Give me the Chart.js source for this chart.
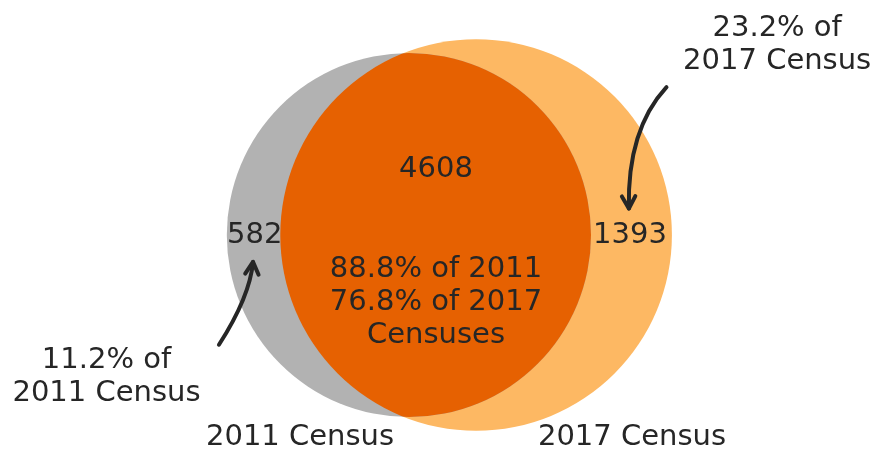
<!DOCTYPE html>
<html>
<head>
<meta charset="utf-8">
<title>2011 vs 2017 Census</title>
<script src="https://cdn.jsdelivr.net/npm/chart.js@4.4.1/dist/chart.umd.min.js"></script>
<style>
    html, body { margin: 0; padding: 0; background: #ffffff; }
    #wrap { width: 879px; height: 449px; position: relative; }
</style>
</head>
<body>
<div id="wrap"><canvas id="venn"></canvas></div>
<script>
// 数据：两个集合
const setNames = ['2011 Census', '2017 Census'];
const onlyCounts = [582, 1393];   // 只在 2011 / 只在 2017
const bothCount = 4608;           // 两次都有
const circleCenterX = [-7.5, 7.5]; // 圆心（坐标单位，读图估计）

const colors = ['#b2b2b2', '#fdb863', '#e66101'];
const textColor = '#262626';
const FONT = '29px "DejaVu Sans"';

// 圆面积 = 集合大小
const totals = onlyCounts.map(c => c + bothCount);
const radii = totals.map(t => Math.sqrt(t / Math.PI));
const pct = (n, d) => (n / d * 100).toFixed(1) + '%';

// 文字位置（坐标单位）
const labelPos = {
    both:   { x: -1.45, y: 15.3 },
    onlyA:  { x: -41.9, y: 0.45 },
    onlyB:  { x: 41.85, y: 0.56 },
    share:  { x: -1.45, y: -14.4 },
    nameA:  { x: -31.8, y: -44.6 },
    nameB:  { x: 42.3,  y: -44.6 },
    noteA:  { x: -75.0, y: -31.1 },
    noteB:  { x: 74.7,  y: 43.1 }
};
// 箭头：起点、控制点、终点
const arrowA = [{ x: -49.9, y: -24.5 }, { x: -43.0, y: -13.8 }, { x: -42.3, y: -6.0 }];
const arrowB = [{ x: 50.0, y: 33.0 }, { x: 41.2, y: 23.5 }, { x: 41.6, y: 5.9 }];

function unitToPx(chart, r) {
    const sx = chart.scales.x;
    return Math.abs(sx.getPixelForValue(r) - sx.getPixelForValue(0));
}

function toPx(chart, p) {
    return { x: chart.scales.x.getPixelForValue(p.x), y: chart.scales.y.getPixelForValue(p.y) };
}

// 多行文字，居中
function drawLines(chart, pos, lines) {
    const ctx = chart.ctx;
    const c = toPx(chart, pos);
    const lh = 33;
    const top = c.y - (lines.length - 1) * lh / 2;
    lines.forEach((s, i) => {
        ctx.fillText(s, c.x, top + i * lh + 10.5);
    });
}

function drawArrow(chart, pts) {
    const ctx = chart.ctx;
    const [p0, c, p1] = pts.map(p => toPx(chart, p));
    ctx.beginPath();
    ctx.moveTo(p0.x, p0.y);
    ctx.quadraticCurveTo(c.x, c.y, p1.x, p1.y);
    ctx.stroke();
    const ang = Math.atan2(p1.y - c.y, p1.x - c.x);
    const L = 14, w = 0.5;
    ctx.beginPath();
    ctx.moveTo(p1.x - L * Math.cos(ang - w), p1.y - L * Math.sin(ang - w));
    ctx.lineTo(p1.x, p1.y);
    ctx.lineTo(p1.x - L * Math.cos(ang + w), p1.y - L * Math.sin(ang + w));
    ctx.stroke();
}

const vennPlugin = {
    id: 'venn',
    afterDatasetsDraw(chart) {
        // 交集区域：裁剪到圆 A 再填充圆 B
        const a = chart.getDatasetMeta(0).data[0];
        const b = chart.getDatasetMeta(1).data[0];
        const ctx = chart.ctx;
        ctx.save();
        ctx.beginPath();
        ctx.arc(a.x, a.y, a.options.radius, 0, Math.PI * 2);
        ctx.clip();
        ctx.beginPath();
        ctx.arc(b.x, b.y, b.options.radius, 0, Math.PI * 2);
        ctx.fillStyle = colors[2];
        ctx.fill();
        ctx.restore();
    },
    afterDraw(chart) {
        const ctx = chart.ctx;
        ctx.save();
        ctx.font = FONT;
        ctx.fillStyle = textColor;
        ctx.textAlign = 'center';
        ctx.textBaseline = 'alphabetic';
        drawLines(chart, labelPos.both, [String(bothCount)]);
        drawLines(chart, labelPos.onlyA, [String(onlyCounts[0])]);
        drawLines(chart, labelPos.onlyB, [String(onlyCounts[1])]);
        drawLines(chart, labelPos.share, [
            pct(bothCount, totals[0]) + ' of 2011',
            pct(bothCount, totals[1]) + ' of 2017',
            'Censuses'
        ]);
        drawLines(chart, labelPos.nameA, [setNames[0]]);
        drawLines(chart, labelPos.nameB, [setNames[1]]);
        drawLines(chart, labelPos.noteA, [pct(onlyCounts[0], totals[0]) + ' of', setNames[0]]);
        drawLines(chart, labelPos.noteB, [pct(onlyCounts[1], totals[1]) + ' of', setNames[1]]);

        ctx.strokeStyle = textColor;
        ctx.lineWidth = 4;
        ctx.lineJoin = 'round';
        ctx.lineCap = 'round';
        drawArrow(chart, arrowA);
        drawArrow(chart, arrowB);
        ctx.restore();
    }
};

const chart = new Chart(document.getElementById('venn'), {
    type: 'scatter',
    data: {
        datasets: setNames.map((name, i) => ({
            label: name,
            data: [{ x: circleCenterX[i], y: 0 }],
            pointBackgroundColor: colors[i],
            pointBorderWidth: 0,
            pointRadius: ctx => unitToPx(ctx.chart, radii[ctx.datasetIndex]),
            clip: false
        }))
    },
    options: {
        responsive: true,
        maintainAspectRatio: false,
        animation: false,
        events: [],
        layout: { padding: 0 },
        plugins: { legend: { display: false }, tooltip: { enabled: false } },
        scales: {
            x: { type: 'linear', display: false, min: -98.77, max: 97.43 },
            y: { type: 'linear', display: false, min: -47.77, max: 52.46 }
        }
    },
    plugins: [vennPlugin]
});
</script>
</body>
</html>
